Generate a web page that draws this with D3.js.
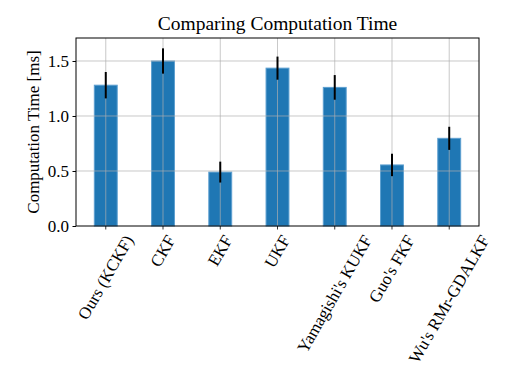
<!DOCTYPE html>
<html><head><meta charset="utf-8">
<script src="https://cdn.jsdelivr.net/npm/d3@7"></script>
<style>body{margin:0;background:#fff}svg{display:block}text{font-family:"Liberation Serif","Times New Roman",serif;fill:#000}</style>
</head><body>
<svg id="c" width="510" height="382"></svg>
<script>
const categories = ["Ours (KCKF)", "CKF", "EKF", "UKF", "Yamagishi's KUKF", "Guo's FKF", "Wu's RMr-GDALKF"];
const meanTimes = [1.28, 1.50, 0.49, 1.435, 1.26, 0.555, 0.797];
const errTimes = [0.12, 0.115, 0.095, 0.105, 0.112, 0.102, 0.105];
const yTicks = [0.0, 0.5, 1.0, 1.5];
const title = "Comparing Computation Time";
const yLabel = "Computation Time [ms]";

const svg = d3.select("#c");
const L = 76, R = 479, T = 38, B = 226;
const barW = 0.4;
const x = d3.scaleLinear().domain([-0.52, categories.length - 1 + 0.52]).range([L, R]);
const y = d3.scaleLinear().domain([0, 1.709]).range([B, T]);

// bars
svg.append("g").selectAll("rect").data(meanTimes).join("rect")
  .attr("x", (d, i) => x(i - barW / 2)).attr("width", x(barW) - x(0))
  .attr("y", d => y(d)).attr("height", d => y(0) - y(d))
  .attr("fill", "#1f77b4").attr("stroke", "#5d9fd0").attr("stroke-width", 1);

// grid
const g = svg.append("g");
g.selectAll(".gy").data(yTicks.slice(1)).join("line")
  .attr("x1", L).attr("x2", R).attr("y1", d => y(d)).attr("y2", d => y(d))
  .attr("stroke", "#b0b0b0").attr("stroke-width", 0.8).attr("opacity", 0.85);
g.selectAll(".gx").data(categories).join("line")
  .attr("x1", (d, i) => x(i)).attr("x2", (d, i) => x(i)).attr("y1", T).attr("y2", B)
  .attr("stroke", "#b0b0b0").attr("stroke-width", 0.8).attr("opacity", 0.85);

// error bars
svg.append("g").selectAll("line").data(meanTimes).join("line")
  .attr("x1", (d, i) => x(i)).attr("x2", (d, i) => x(i))
  .attr("y1", (d, i) => y(d + errTimes[i])).attr("y2", (d, i) => y(d - errTimes[i]))
  .attr("stroke", "#000").attr("stroke-width", 2);

// frame
svg.append("rect").attr("x", L).attr("y", T).attr("width", R - L).attr("height", B - T)
  .attr("fill", "none").attr("stroke", "#000").attr("stroke-width", 1);

// y axis ticks
const ya = svg.append("g").attr("transform", `translate(${L},0)`)
  .call(d3.axisLeft(y).tickValues(yTicks).tickFormat(d3.format(".1f")).tickSize(3.5).tickPadding(3.5));
ya.select(".domain").remove();
ya.selectAll("text").style("font-size", "17px").attr("font-family", null);

// x axis ticks
const xa = svg.append("g").attr("transform", `translate(0,${B})`);
xa.selectAll("line").data(categories).join("line")
  .attr("x1", (d, i) => x(i)).attr("x2", (d, i) => x(i)).attr("y1", 0).attr("y2", 3.5)
  .attr("stroke", "#000").attr("stroke-width", 0.8);
const fs = 17, ang = 60 * Math.PI / 180;
xa.selectAll("text").data(categories).join("text")
  .style("font-size", fs + "px").attr("text-anchor", "middle").attr("dy", "0.32em")
  .text(d => d)
  .each(function (d, i) {
    const len = this.getComputedTextLength();
    const h = fs * 0.9;
    const bh = len * Math.sin(ang) + h * Math.cos(ang);
    const cy = 7 + bh / 2;
    d3.select(this).attr("transform", `translate(${x(i)},${cy}) rotate(-60)`);
  });

// title
svg.append("text").attr("x", (L + R) / 2).attr("y", 30).attr("text-anchor", "middle")
  .style("font-size", "19.5px").text(title);
// y label
svg.append("text").attr("transform", `translate(39,${(T + B) / 2}) rotate(-90)`)
  .attr("text-anchor", "middle").style("font-size", "17px").text(yLabel);
</script>
</body></html>
